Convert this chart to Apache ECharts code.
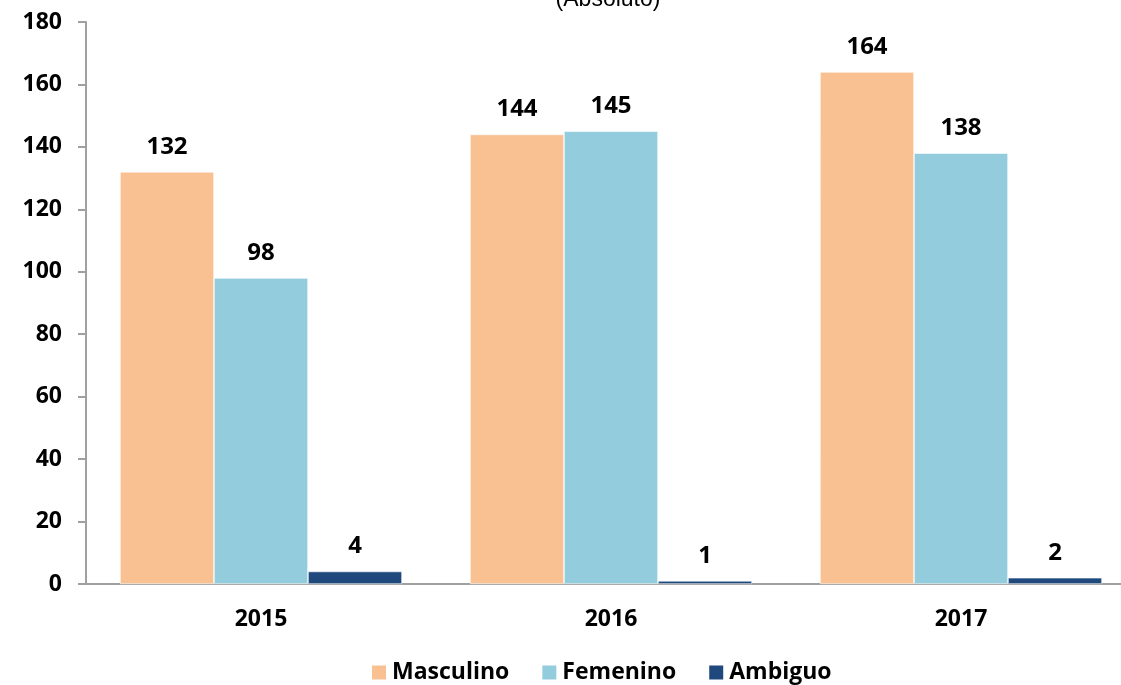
<!DOCTYPE html>
<html lang="es">
<head>
    <meta charset="UTF-8">
    <title>Chart</title>
    <style>
        html, body { margin: 0; padding: 0; background: #fff; }
    </style>
</head>
<body>
<div id="main" style="width: 1121px;height:685px;"></div>
<script src="https://cdn.jsdelivr.net/npm/echarts@6/dist/echarts.min.js"></script>
<script>
    var years = ['2015', '2016', '2017'];
    var masculino = [132, 144, 164];
    var femenino = [98, 145, 138];
    var ambiguo = [4, 1, 2];

    var font = 'Open Sans';

    var myChart = echarts.init(document.getElementById('main'));

    function barSeries(name, data, color) {
        return {
            name: name,
            type: 'bar',
            data: data,
            barWidth: 94,
            barGap: '0%',
            itemStyle: {
                color: color,
                borderColor: '#fff',
                borderWidth: 0.6
            },
            label: {
                show: true,
                position: 'top',
                distance: 13,
                color: '#000',
                fontFamily: font,
                fontWeight: 'bold',
                fontSize: 24
            }
        };
    }

    var option = {
        backgroundColor: '#fff',
        animation: false,
        title: {
            text: '(Absoluto)',
            left: 603,
            textAlign: 'center',
            top: -17,
            textStyle: {
                fontFamily: 'Liberation Sans',
                fontWeight: 'normal',
                fontSize: 23,
                color: '#000'
            }
        },
        legend: {
            top: 656,
            left: 365,
            itemWidth: 16,
            itemHeight: 16,
            itemGap: 31,
            icon: 'rect',
            data: ['Masculino', 'Femenino', 'Ambiguo'],
            textStyle: {
                fontFamily: font,
                fontWeight: 'bold',
                fontSize: 23,
                color: '#000'
            }
        },
        grid: {
            left: 86,
            top: 22,
            bottom: 101,
            width: 1050,
            outerBoundsMode: 'none'
        },
        xAxis: {
            type: 'category',
            data: years,
            axisLine: { lineStyle: { color: '#a0a0a0', width: 2 } },
            axisTick: { alignWithLabel: true, length: 7, lineStyle: { color: '#a0a0a0', width: 2 } },
            axisLabel: {
                margin: 24,
                color: '#000',
                fontFamily: font,
                fontWeight: 'bold',
                fontSize: 23
            }
        },
        yAxis: {
            type: 'value',
            min: 0,
            max: 180,
            interval: 20,
            splitLine: { show: false },
            axisLine: { show: true, lineStyle: { color: '#a0a0a0', width: 2 } },
            axisTick: { show: true, length: 8, lineStyle: { color: '#a0a0a0', width: 2 } },
            axisLabel: {
                margin: 24,
                color: '#000',
                fontFamily: font,
                fontWeight: 'bold',
                fontSize: 23
            }
        },
        series: [
            barSeries('Masculino', masculino, '#F9C192'),
            barSeries('Femenino', femenino, '#93CDDD'),
            barSeries('Ambiguo', ambiguo, '#1F497D')
        ]
    };

    myChart.setOption(option);
</script>
</body>
</html>
